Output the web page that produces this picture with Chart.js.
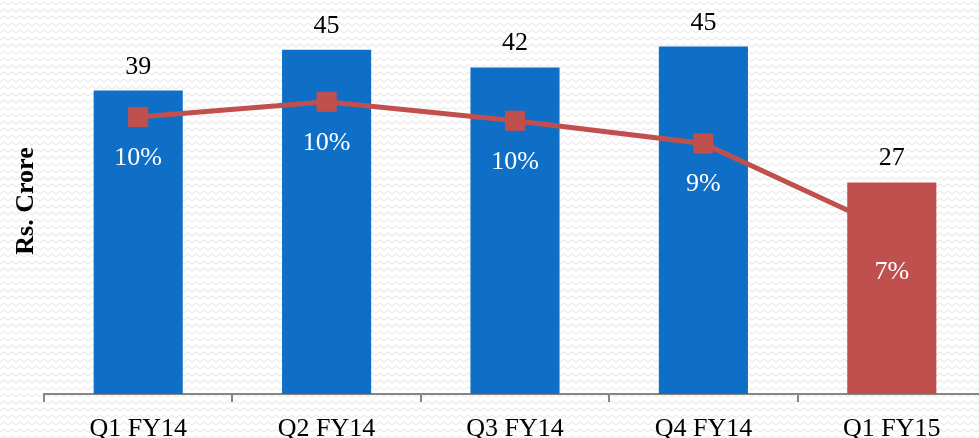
<!DOCTYPE html>
<html>
<head>
<meta charset="utf-8">
<script src="https://cdn.jsdelivr.net/npm/chart.js@4/dist/chart.umd.min.js"></script>
<style>
  html, body { margin: 0; padding: 0; overflow: hidden; width: 979px; height: 438px; }
  body {
    background-color: #ffffff;
    background-image: url("data:image/svg+xml;utf8,<svg xmlns='http://www.w3.org/2000/svg' width='8' height='7'><polyline points='0,5 4,2 8,5' fill='none' stroke='%23ebebeb' stroke-width='1.3'/></svg>");
  }
  #wrap { position: absolute; left: 0; top: 0; width: 986px; height: 438px; }
</style>
</head>
<body>
<div id="wrap"><canvas id="c" width="986" height="438"></canvas></div>
<script>
// ---- data ----
const categories = ['Q1 FY14', 'Q2 FY14', 'Q3 FY14', 'Q4 FY14', 'Q1 FY15'];
const revenueFY14 = [39.3, 44.6, 42.3, 45.0, null];   // Rs. Crore (blue bars)
const revenueFY15 = [null, null, null, null, 27.4];   // Rs. Crore (red bar)
const marginPct   = [10.0, 10.4, 9.9, 9.3, 7.0];      // % (line)

const BLUE = '#0F6FC6';
const RED = '#C0504D';
const FONT = "'Liberation Serif', 'Times New Roman', serif";

const labelPlugin = {
  id: 'labels',
  afterDatasetsDraw(chart) {
    const ctx = chart.ctx;
    ctx.save();
    ctx.font = '26px ' + FONT;
    ctx.textAlign = 'center';
    ctx.textBaseline = 'alphabetic';
    [0, 1].forEach(di => {
      const meta = chart.getDatasetMeta(di);
      const data = chart.data.datasets[di].data;
      meta.data.forEach((el, i) => {
        if (data[i] == null) return;
        ctx.fillStyle = '#000000';
        ctx.fillText(String(Math.round(data[i])), el.x, el.y - 17);
      });
    });
    const lm = chart.getDatasetMeta(2);
    const ld = chart.data.datasets[2].data;
    lm.data.forEach((el, i) => {
      ctx.fillStyle = '#ffffff';
      ctx.fillText(Math.round(ld[i]) + '%', el.x, el.y + 48);
    });
    ctx.restore();
  }
};

new Chart(document.getElementById('c'), {
  data: {
    labels: categories,
    datasets: [
      {
        type: 'bar', data: revenueFY14, backgroundColor: BLUE,
        yAxisID: 'y', order: 2, grouped: false,
        barPercentage: 0.473, categoryPercentage: 1.0
      },
      {
        type: 'bar', data: revenueFY15, backgroundColor: RED,
        yAxisID: 'y', order: 0, grouped: false,
        barPercentage: 0.473, categoryPercentage: 1.0
      },
      {
        type: 'line', data: marginPct, yAxisID: 'y2', order: 1,
        borderColor: RED, borderWidth: 5, tension: 0,
        pointStyle: 'rect', pointRadius: 13.5, pointBorderWidth: 1,
        pointBackgroundColor: RED, pointBorderColor: RED
      }
    ]
  },
  options: {
    responsive: false,
    animation: false,
    devicePixelRatio: 1,
    layout: { autoPadding: false, padding: { top: 8, left: 0, right: 0, bottom: 0 } },
    plugins: { legend: { display: false }, tooltip: { enabled: false } },
    scales: {
      x: {
        offset: true,
        grid: { offset: true, drawOnChartArea: false, drawTicks: true, tickLength: 8, color: '#868686', lineWidth: 2 },
        border: { display: true, color: '#868686', width: 2 },
        ticks: { color: '#000000', font: { family: FONT, size: 26 }, padding: 12, maxRotation: 0 },
        afterFit(scale) { scale.height = 44; }
      },
      y: {
        position: 'left', min: 0, max: 50,
        grid: { display: false }, border: { display: false },
        ticks: { display: false },
        title: { display: true, text: 'Rs. Crore', color: '#000000',
                 font: { family: FONT, size: 26, weight: 'bold' }, padding: { top: 11, bottom: 0 } },
        afterFit(scale) { scale.width = 44; }
      },
      y2: {
        position: 'right', display: false, min: 2.7, max: 12.87
      }
    }
  },
  plugins: [labelPlugin]
});
</script>
</body>
</html>
